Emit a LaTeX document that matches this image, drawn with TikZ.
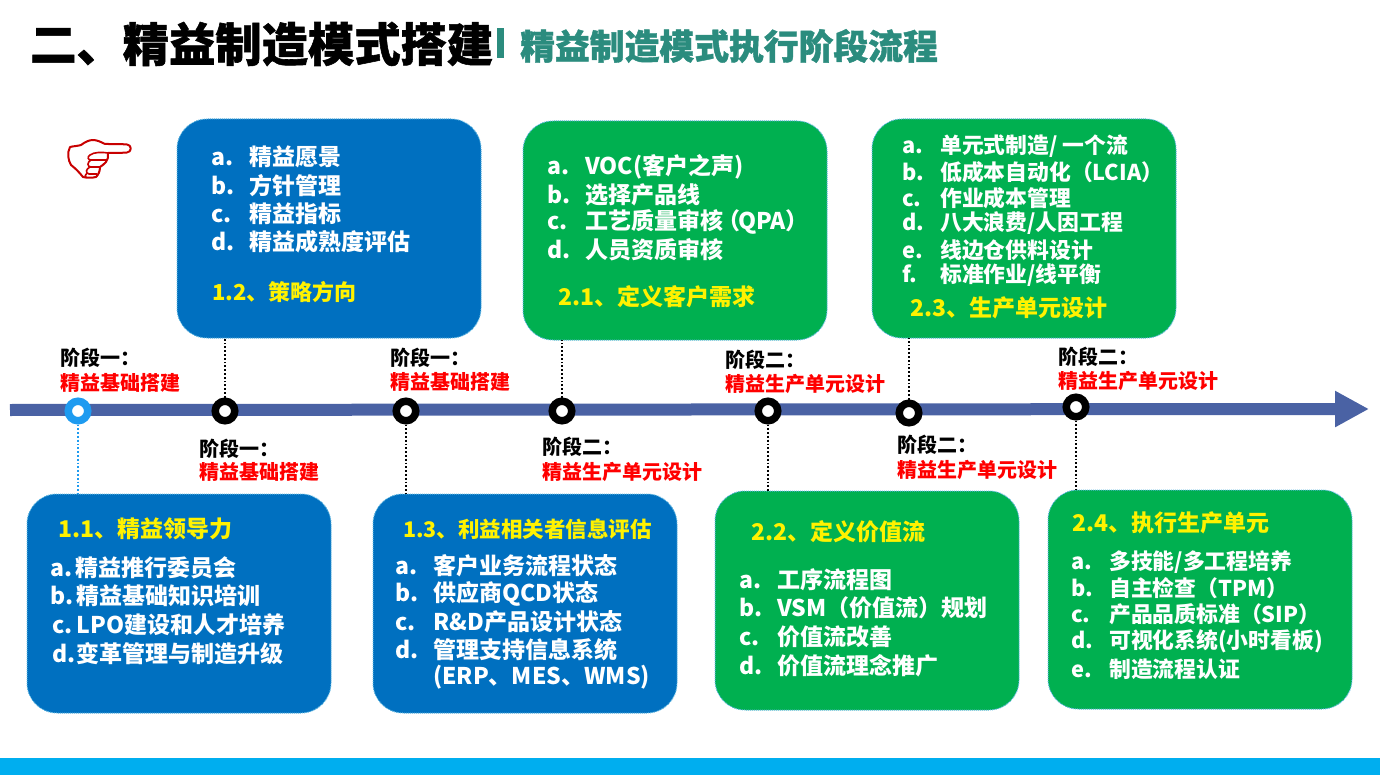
\documentclass[tikz,border=0pt]{standalone}
\usepackage{fontspec}
\setmainfont{Noto Sans CJK SC}
\newfontfamily\heavyfont{Noto Sans CJK SC}[BoldFeatures={FakeBold=1.2}]
\usetikzlibrary{arrows.meta,positioning}
\definecolor{boxblue}{HTML}{0070C0}
\definecolor{boxgreen}{HTML}{00B050}
\definecolor{barblue}{HTML}{4A62A4}
\definecolor{dotblue}{HTML}{1E9BF0}
\definecolor{subteal}{HTML}{2B8C7E}
\definecolor{bandblue}{HTML}{00AEEF}
\definecolor{edgeteal}{HTML}{5BB5E0}
\definecolor{handred}{HTML}{C80000}
\newcommand{\lit}[2]{\makebox[38pt][l]{#1}#2}
\newcommand{\lpar}{\hspace{-6pt}（\hspace{-2pt}}
\tikzset{
    x=1pt, y=-1pt,
    boxbase/.style={anchor=north west, minimum width=304pt, minimum height=219pt,
        inner sep=0pt, outer sep=0pt, rounded corners=30pt, draw=edgeteal, densely dotted, line width=1pt},
    bluebox/.style={boxbase, fill=boxblue},
    greenbox/.style={boxbase, fill=boxgreen},
    item/.style={anchor=west, inner sep=0pt, text=white, font=\fontsize{23}{25}\selectfont\bfseries},
    itemsm/.style={item, font=\fontsize{21.8}{25}\selectfont\bfseries},
    head/.style={anchor=west, inner sep=0pt, text=yellow, font=\fontsize{23}{25}\selectfont\bfseries},
    stagek/.style={anchor=west, inner sep=0pt, text=black, font=\fontsize{20}{22}\selectfont\bfseries},
    stager/.style={anchor=west, inner sep=0pt, text=red, font=\fontsize{20}{22}\selectfont\bfseries},
    dot/.style={circle, draw=black, fill=white, line width=7.5pt, minimum size=19.5pt, inner sep=0pt, outer sep=3.75pt},
    link/.style={black, dotted, line width=1.8pt},
}
\begin{document}
\begin{tikzpicture}
    \useasboundingbox (0,0) rectangle (1380,775);
    % band and title
    \fill[bandblue] (0,758) rectangle (1380,775);
    \node[anchor=west, inner sep=0pt, font=\heavyfont\fontsize{46.3}{50}\selectfont\bfseries] (title) at (30,44) {二、精益制造模式搭建};
    \fill[subteal] (497,28) rectangle (504,58);
    \node[anchor=west, inner sep=0pt, text=subteal, font=\heavyfont\fontsize{34.8}{38}\selectfont\bfseries] (subtitle) at (520,46) {精益制造模式执行阶段流程};

    % hand
    \draw[handred, line width=2pt, fill=white, line join=round]
        (105,144) .. controls (112,144) and (122,144) .. (127,144.5) .. controls (132,145) and (132,152) .. (127,152.5)
        .. controls (120,153) and (114,153) .. (108,153) .. controls (108,157) and (108,160) .. (106,162)
        .. controls (104,164) and (102,166) .. (100,167) .. controls (100,172) and (98,175) .. (96,177)
        .. controls (92,178) and (87,178) .. (83,177) .. controls (79,172) and (75,168) .. (71,165)
        .. controls (68,160) and (67,153) .. (70,147) .. controls (74,146) and (78,146) .. (81,145)
        .. controls (85,142) and (89,140) .. (93,140) .. controls (97,140) and (101,142) .. (105,144) -- cycle;
    \draw[handred, line width=1.6pt]
        (108,153) .. controls (102,152) and (94,152) .. (90,155) .. controls (87,157) and (88,160) .. (91,160) -- (106,160)
        (91,160) .. controls (87,162) and (87,167) .. (91,167) -- (100,167)
        (90,167) .. controls (86,169) and (85,173) .. (89,174) -- (97,174)
        (87,173) .. controls (85,175) and (85,176) .. (86,177);

    % boxes
    \node[bluebox] (b12) at (177,119) {};
    \node[greenbox] (b21) at (523,121) {};
    \node[greenbox] (b23) at (872,119) {};
    \node[bluebox] (b11) at (27,494) {};
    \node[bluebox] (b13) at (373,494) {};
    \node[greenbox] (b22) at (715,491) {};
    \node[greenbox] (b24) at (1048,490) {};

    % box texts
    \foreach \ty/\il/\itxt in {157/a./精益愿景, 186/b./方针管理, 214/c./精益指标, 242/d./精益成熟度评估}
        \node[item] (t12\ty) at (211,\ty) {\lit{\il}{\itxt}};
    \node[head, font=\fontsize{22}{25}\selectfont\bfseries] (h12) at (212,292) {1.2、策略方向};

    \foreach \ty/\il/\itxt in {167/a./VOC(客户之声), 195/b./选择产品线, 222/c./工艺质量审核\lpar QPA）, 250/d./人员资质审核}
        \node[item] (t21\ty) at (547,\ty) {\lit{\il}{\itxt}};
    \node[head] (h21) at (558,297) {2.1、定义客户需求};

    \foreach \ty/\il/\itxt in {146/a./{单元式制造/ 一个流}, 172/b./低成本自动化（LCIA）, 198/c./作业成本管理,
            223/d./{八大浪费/人因工程}, 250/e./线边仓供料设计, 275/f./{标准作业/线平衡}}
        \node[itemsm] (t23\ty) at (902,\ty) {\lit{\il}{\itxt}};
    \node[head] (h23) at (910,308) {2.3、生产单元设计};

    \node[head] (h11) at (58,529) {1.1、精益领导力};
    \node[item] (t11a) at (50,568) {a.\hspace{3pt}精益推行委员会};
    \node[item] (t11b) at (50,596) {b.\hspace{3pt}精益基础知识培训};
    \node[item] (t11c) at (52,625) {c.\hspace{4pt}LPO建设和人才培养};
    \node[item] (t11d) at (52,654) {d.\hspace{1pt}变革管理与制造升级};

    \node[head, font=\fontsize{21.5}{25}\selectfont\bfseries] (h13) at (403,529) {1.3、利益相关者信息评估};
    \foreach \ty/\il/\itxt in {566/a./客户业务流程状态, 594/b./供应商QCD状态, 622/c./R\&D产品设计状态, 650/d./管理支持信息系统, 677//(ERP、MES、WMS)}
        \node[item] (t13\ty) at (395,\ty) {\lit{\il}{\itxt}};

    \node[head] (h22) at (751,532) {2.2、定义价值流};
    \foreach \ty/\il/\itxt in {580/a./工序流程图, 608/b./VSM（价值流）规划, 637/c./价值流改善, 666/d./价值流理念推广}
        \node[item] (t22\ty) at (739,\ty) {\lit{\il}{\itxt}};

    \node[head] (h24) at (1072,523) {2.4、执行生产单元};
    \foreach \ty/\il/\itxt in {562/a./{多技能/多工程培养}, 588/b./自主检查（TPM）, 614/c./产品品质标准（SIP）, 641/d./可视化系统(小时看板), 669/e./制造流程认证}
        \node[itemsm] (t24\ty) at (1071,\ty) {\lit{\il}{\itxt}};

    % timeline
    \coordinate (tlstart) at (10,410);
    \coordinate (tlend) at (1369,409);
    \draw[barblue, line width=12pt, -{Triangle[length=34pt,width=34pt]}] (tlstart) -- (tlend);

    \node[dot, draw=dotblue] (p11) at (78,411) {};
    \node[dot] (p12) at (225,411) {};
    \node[dot] (p13) at (406,411) {};
    \node[dot] (p21) at (562,411) {};
    \node[dot] (p22) at (768,411) {};
    \node[dot] (p23) at (909,413) {};
    \node[dot] (p24) at (1076,407) {};

    % links
    \draw[link, dotblue] (p11) -- (p11 |- b11.north);
    \draw[link] (p12) -- (p12 |- b12.south);
    \draw[link] (p13) -- (p13 |- b13.north);
    \draw[link] (p21) -- (p21 |- b21.south);
    \draw[link] (p22) -- (p22 |- b22.north);
    \draw[link] (p23) -- (p23 |- b23.south);
    \draw[link] (p24) -- (p24 |- b24.north);

    % stage labels
    \foreach \lx/\ly/\ry/\sk/\sr in {60/358/383/阶段一：/精益基础搭建, 199/449/472/阶段一：/精益基础搭建,
            390/358/382/阶段一：/精益基础搭建, 542/447/472/阶段二：/精益生产单元设计,
            725/360/384/阶段二：/精益生产单元设计, 897/445/470/阶段二：/精益生产单元设计,
            1058/357/381/阶段二：/精益生产单元设计}{
        \node[stagek] (sk\lx) at (\lx,\ly) {\sk};
        \node[stager] (sr\lx) at (\lx,\ry) {\sr};
    }
\end{tikzpicture}
\end{document}
